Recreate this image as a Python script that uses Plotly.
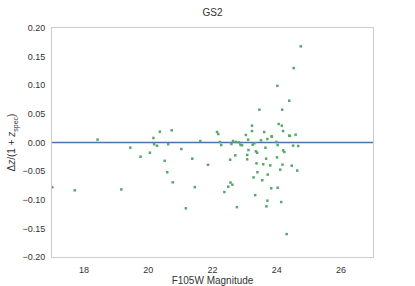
import plotly.graph_objects as go

mag = [18.42, 19.44, 17.01, 17.71, 19.16, 19.76, 20.05, 20.16, 20.18, 20.27, 20.36, 20.51, 20.59, 20.62,
       20.73, 20.76, 21.03, 21.37, 21.45, 21.17, 21.62, 21.86, 22.14, 22.18, 22.23, 22.27, 22.55, 22.64,
       22.59, 22.73, 22.82, 22.87, 22.92, 22.71, 22.56, 22.62, 22.49, 22.37, 22.76, 23.04, 23.11, 23.23,
       23.23, 23.25, 23.12, 23.08, 23.08, 23.30, 23.35, 23.39, 23.51, 23.61, 23.65, 23.67, 23.71, 23.84,
       23.37, 23.58, 23.80, 23.40, 23.28, 23.55, 23.72, 23.33, 23.83, 23.71, 23.68, 23.99, 24.03, 24.01,
       24.11, 24.03, 24.14, 24.06, 24.16, 24.20, 24.18, 24.31, 24.39, 24.20, 23.85, 24.41, 24.59, 24.51,
       24.67, 24.24, 24.47, 24.64, 24.75, 24.53, 24.02, 24.39, 24.17, 23.46]
dz = [0.005, -0.009, -0.078, -0.0835, -0.082, -0.0248, -0.0178, 0.0079, -0.003, -0.0056, 0.0189, -0.032,
      -0.052, -0.003, 0.0213, -0.0695, -0.0114, -0.0283, -0.078, -0.115, 0.0026, -0.039, 0.0183, 0.0148,
      0.0009, -0.0044, -0.030, 0.0026, -0.0026, 0.0009, 0.0003, -0.0038, -0.0049, -0.0224, -0.070, -0.0737,
      -0.0772, -0.0865, -0.113, 0.0131, 0.0049, 0.0294, 0.020, -0.0038, -0.0131, -0.0218, -0.0294, -0.0015,
      -0.0154, -0.0178, 0.0038, 0.0183, -0.0091, -0.0283, 0.0061, 0.0108, -0.0364, -0.038, -0.040, -0.052,
      -0.061, -0.066, -0.056, -0.092, -0.080, -0.1016, -0.1115, 0.0009, -0.0044, -0.026, -0.0475, -0.079,
      -0.104, 0.0323, 0.0294, -0.0137, -0.0387, -0.160, 0.012, 0.020, 0.0102, 0.0114, 0.0137, -0.0055,
      -0.0061, -0.0166, -0.0405, -0.049, 0.168, 0.130, 0.099, 0.073, 0.0573, 0.0573]

x_range = [17, 27]
y_range = [-0.2, 0.2]
x_ticks = [18, 20, 22, 24, 26]
y_ticks = [-0.20, -0.15, -0.10, -0.05, 0.00, 0.05, 0.10, 0.15, 0.20]

fig = go.Figure()
fig.add_trace(go.Scatter(x=x_range, y=[0, 0], mode="lines",
                         line=dict(color="#4C72B0", width=1.5), showlegend=False, hoverinfo="skip"))
fig.add_trace(go.Scatter(x=mag, y=dz, mode="markers",
                         marker=dict(color="#55A868", size=2.5, symbol="square", line=dict(width=0)),
                         showlegend=False))

font = dict(family="Liberation Sans, Arial, sans-serif", color="#333333")
fig.update_layout(
    width=415, height=286,
    margin=dict(l=52, r=42, t=28, b=29, autoexpand=False),
    paper_bgcolor="white", plot_bgcolor="white",
    font=dict(size=9, **font),
    title=dict(text="GS2", x=0.5, xref="paper", xanchor="center", y=0.955, yanchor="middle",
               font=dict(size=10, **font), automargin=False),
    xaxis=dict(range=x_range, tickvals=x_ticks, ticktext=[str(v) for v in x_ticks], automargin=False,
               showgrid=False, zeroline=False, showline=True, linecolor="#cccccc", linewidth=1, mirror=True,
               ticks="outside", ticklen=4, tickcolor="white",
               title=dict(text="F105W Magnitude", font=dict(size=10, **font), standoff=2)),
    yaxis=dict(range=y_range, tickvals=y_ticks, ticktext=[f"{v:.2f}".replace("-", "\u2212") for v in y_ticks],
               automargin=False,
               showgrid=False, zeroline=False, showline=True, linecolor="#cccccc", linewidth=1, mirror=True,
               ticks="outside", ticklen=4, tickcolor="white",
               title=dict(text="Δ<i>z</i>/(1 + <i>z</i><sub>spec</sub>)", font=dict(size=10, **font), standoff=4)),
)
fig.write_html("out.html", config={"displayModeBar": False},
               post_script="document.body.style.margin='0';document.body.style.overflow='hidden';")
